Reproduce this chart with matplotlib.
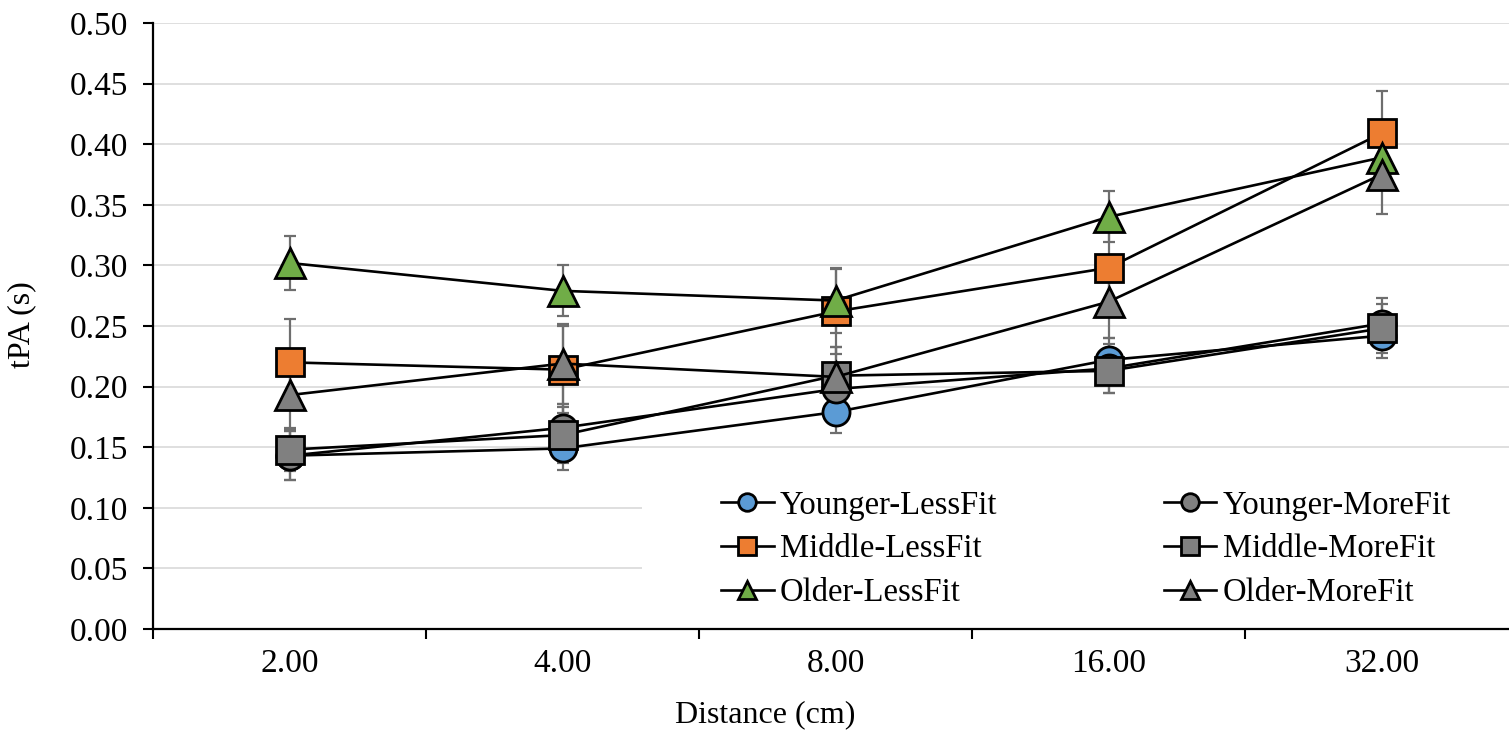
import matplotlib
matplotlib.use("Agg")
from matplotlib import pyplot as plt
from matplotlib.patches import Rectangle

plt.rcParams['font.family'] = ['Liberation Serif', 'DejaVu Serif']

distances = ["2.00", "4.00", "8.00", "16.00", "32.00"]

younger_less = [0.143, 0.149, 0.179, 0.222, 0.242]
younger_more = [0.143, 0.166, 0.198, 0.215, 0.252]
middle_less = [0.220, 0.214, 0.262, 0.298, 0.409]
middle_more = [0.148, 0.160, 0.209, 0.213, 0.248]
older_less = [0.302, 0.279, 0.271, 0.340, 0.389]
older_more = [0.193, 0.219, 0.208, 0.270, 0.375]

younger_less_err = [0.020, 0.018, 0.017, 0.018, 0.018]
younger_more_err = [0.020, 0.020, 0.020, 0.020, 0.021]
middle_less_err = [0.036, 0.036, 0.035, 0.030, 0.035]
middle_more_err = [0.018, 0.023, 0.024, 0.018, 0.020]
older_less_err = [0.022, 0.021, 0.027, 0.021, 0.022]
older_more_err = [0.028, 0.033, 0.025, 0.030, 0.033]

series = [
    ("Younger-LessFit", younger_less, younger_less_err, "o", "#5B9BD5"),
    ("Younger-MoreFit", younger_more, younger_more_err, "o", "#808080"),
    ("Middle-LessFit", middle_less, middle_less_err, "s", "#ED7D31"),
    ("Middle-MoreFit", middle_more, middle_more_err, "s", "#808080"),
    ("Older-LessFit", older_less, older_less_err, "^", "#70AD47"),
    ("Older-MoreFit", older_more, older_more_err, "^", "#808080"),
]

W, H = 1509, 733
fig = plt.figure(figsize=(W / 100, H / 100), dpi=100)
ax = fig.add_axes([153 / W, (H - 629) / H, 1365 / W, 606 / H])

x = list(range(len(distances)))
handles = {}
z = 3
for name, vals, err, mk, col in series:
    ax.errorbar(x, vals, yerr=err, fmt="none", ecolor="#6E6E6E", elinewidth=1.6,
                capsize=4.5, capthick=1.6, zorder=2)
    ms = 19.5 if mk != "^" else 21
    line, = ax.plot(x, vals, color="black", lw=1.9, marker=mk, markersize=ms,
                    markerfacecolor=col, markeredgecolor="black", markeredgewidth=2.0,
                    label=name, zorder=z)
    handles[name] = line
    z += 1

ax.set_xlim(-0.5, 4.5)
ax.set_ylim(0, 0.5)
ax.set_yticks([i * 0.05 for i in range(11)])
ax.set_yticklabels(["{0:.2f}".format(i * 0.05) for i in range(11)])
ax.set_xticks(x)
ax.set_xticklabels(distances)
ax.set_xticks([i + 0.5 for i in range(-1, 5)], minor=True)
ax.tick_params(axis="x", which="major", length=0, pad=14, labelsize=24)
ax.tick_params(axis="x", which="minor", length=7, width=1.5, direction="out")
ax.tick_params(axis="y", length=7, width=1.5, pad=11, labelsize=24)

ax.set_axisbelow(True)
ax.grid(axis="y", color="#D9D9D9", lw=1.2, zorder=0.5)
for s in ["top", "right"]:
    ax.spines[s].set_visible(False)
for s in ["left", "bottom"]:
    ax.spines[s].set_linewidth(1.6)

# white area behind the legend hides gridlines
ax.add_patch(Rectangle((489 / 1365, 0.003), 1.0, (629 - 475) / 606 - 0.003,
                       transform=ax.transAxes, facecolor="white", edgecolor="none", zorder=0.8))

order = ["Younger-LessFit", "Middle-LessFit", "Older-LessFit",
         "Younger-MoreFit", "Middle-MoreFit", "Older-MoreFit"]
leg = fig.legend([handles[n] for n in order], order, ncol=2, loc="upper left",
                 bbox_to_anchor=(705 / W, (H - 474) / H), frameon=False, fontsize=23.5,
                 borderpad=0, handlelength=1.6, handletextpad=0.2, columnspacing=5.1,
                 labelspacing=0.40, markerscale=0.65)

fig.text(765 / W, (H - 715) / H, "Distance (cm)", ha="center", va="center", fontsize=23)
fig.text(22 / W, (H - 325) / H, "tPA (s)", ha="center", va="center", rotation=90, fontsize=23)

plt.savefig("out.png", dpi=100)
